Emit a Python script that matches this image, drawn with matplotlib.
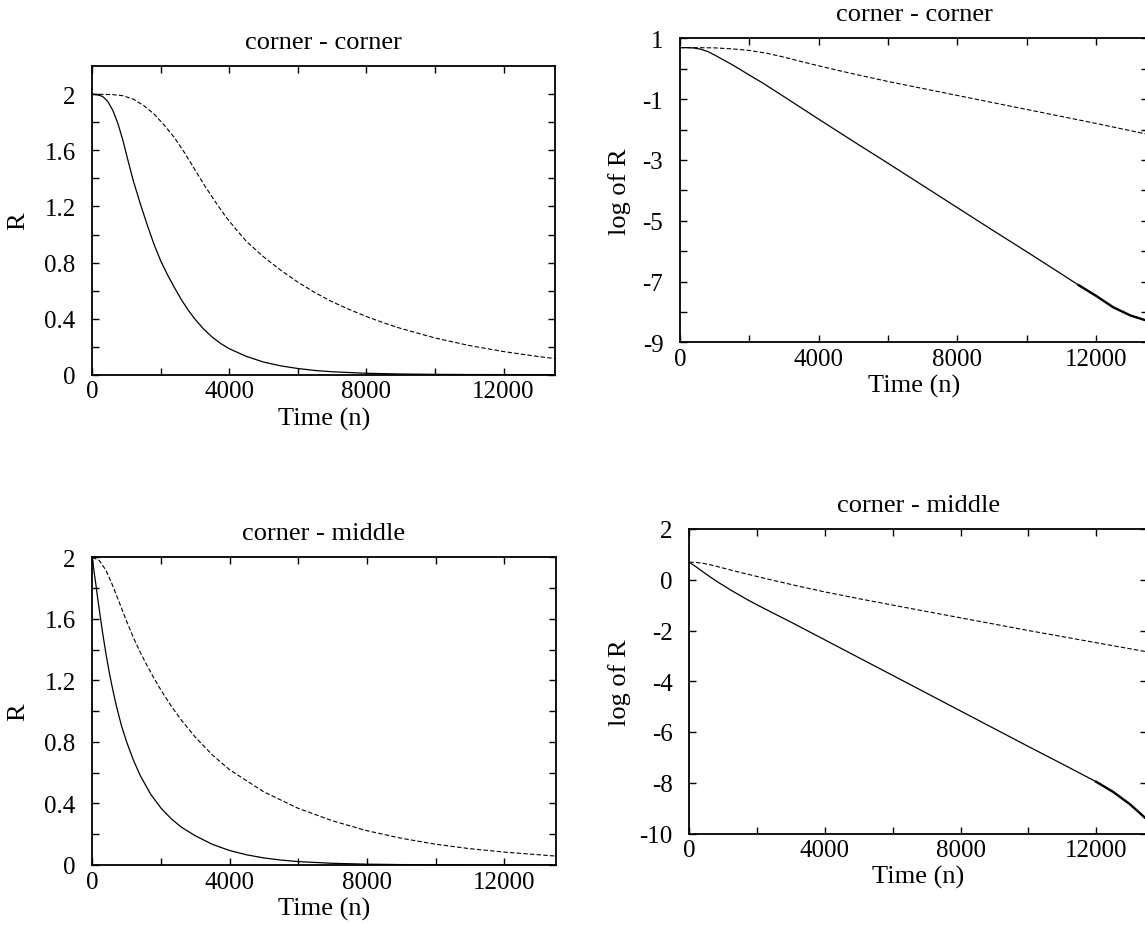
import matplotlib
matplotlib.use("Agg")
import matplotlib.pyplot as plt

plt.rcParams['font.family'] = ['Liberation Serif', 'DejaVu Serif']

# corner - corner, R against time
cc_t_solid = [0, 150, 300, 450, 600, 750, 900, 1050, 1200, 1400, 1600, 1800,
              2000, 2200, 2400, 2600, 2800, 3000, 3250, 3500, 3750, 4000, 4500,
              5000, 5500, 6000, 6500, 7000, 8000, 9000, 10000, 11000, 13500]
cc_r_solid = [2.0, 1.997, 1.985, 1.95, 1.885, 1.79, 1.665, 1.52, 1.38, 1.22,
              1.07, 0.93, 0.81, 0.71, 0.62, 0.535, 0.46, 0.395, 0.325, 0.268,
              0.222, 0.185, 0.13, 0.09, 0.063, 0.044, 0.030, 0.021, 0.01, 0.005,
              0.0024, 0.0012, 0.0002]
cc_t_dash = [0, 300, 600, 900, 1200, 1500, 1800, 2100, 2400, 2700, 3000, 3300,
             3600, 3900, 4200, 4500, 5000, 5500, 6000, 6500, 7000, 7500, 8000,
             8500, 9000, 9500, 10000, 11000, 12000, 13000, 13500]
cc_r_dash = [2.0, 2.0, 1.998, 1.99, 1.965, 1.92, 1.86, 1.78, 1.69, 1.58, 1.46,
             1.34, 1.23, 1.125, 1.035, 0.95, 0.84, 0.745, 0.66, 0.585, 0.52,
             0.465, 0.415, 0.37, 0.33, 0.296, 0.262, 0.208, 0.165, 0.13, 0.115]

# corner - corner, log of R
ccl_t_solid = [0, 200, 400, 600, 800, 1000, 1200, 1400, 1600, 1800, 2000, 2400,
               3000, 4000, 5000, 6000, 7000, 8000, 9000, 10000, 11000, 11500,
               12000, 12500, 13000, 13500]
ccl_v_solid = [0.693, 0.692, 0.682, 0.64, 0.565, 0.45, 0.322, 0.20, 0.068,
               -0.07, -0.21, -0.48, -0.92, -1.66, -2.39, -3.11, -3.84, -4.57,
               -5.30, -6.02, -6.75, -7.12, -7.47, -7.85, -8.12, -8.30]
ccl_t_dash = [0, 500, 1000, 1500, 2000, 2500, 3000, 3500, 4000, 4500, 5000, 6000,
              7000, 8000, 9000, 10000, 11000, 12000, 13500]
ccl_v_dash = [0.693, 0.692, 0.685, 0.652, 0.60, 0.51, 0.38, 0.235, 0.095,
              -0.04, -0.17, -0.42, -0.65, -0.88, -1.11, -1.34, -1.57, -1.80,
              -2.16]

# corner - middle, R against time
cm_t_solid = [0, 50, 100, 150, 200, 300, 400, 500, 600, 700, 850, 1000, 1200,
              1400, 1700, 2000, 2300, 2600, 3000, 3500, 4000, 4500, 5000, 5500,
              6000, 7000, 8000, 9000, 10000, 13500]
cm_r_solid = [2.0, 1.91, 1.83, 1.745, 1.665, 1.51, 1.37, 1.245, 1.135, 1.035,
              0.905, 0.80, 0.68, 0.58, 0.46, 0.37, 0.30, 0.245, 0.19, 0.134,
              0.094, 0.066, 0.046, 0.032, 0.022, 0.011, 0.0054, 0.0027, 0.0013,
              0.0001]
cm_t_dash = [0, 200, 400, 600, 800, 1000, 1200, 1400, 1600, 1800, 2000, 2300,
             2600, 3000, 3500, 4000, 5000, 6000, 7000, 8000, 9000, 10000, 11000,
             12000, 13500]
cm_r_dash = [2.0, 1.98, 1.915, 1.813, 1.699, 1.584, 1.477, 1.381, 1.294, 1.213,
             1.137, 1.033, 0.94, 0.831, 0.715, 0.619, 0.475, 0.368, 0.287,
             0.223, 0.174, 0.135, 0.106, 0.084, 0.058]

# corner - middle, log of R
cml_t_solid = [0, 100, 200, 300, 400, 500, 600, 700, 850, 1000, 1200, 1400,
               1700, 2000, 2300, 2600, 3000, 4000, 5000, 6000, 7000, 8000, 9000,
               10000, 11000, 12000, 12500, 13000, 13500]
cml_v_solid = [0.693, 0.60, 0.51, 0.41, 0.315, 0.22, 0.127, 0.035, -0.10, -0.22,
               -0.39, -0.545, -0.775, -0.99, -1.195, -1.40, -1.67, -2.37, -3.07,
               -3.77, -4.47, -5.17, -5.87, -6.57, -7.26, -7.96, -8.36, -8.85,
               -9.45]
cml_t_dash = [0, 200, 400, 600, 800, 1000, 1200, 1400, 1600, 1800, 2000, 2300,
              2600, 3000, 3500, 4000, 5000, 6000, 7000, 8000, 9000, 10000, 11000,
              12000, 13500]
cml_v_dash = [0.693, 0.683, 0.65, 0.595, 0.53, 0.46, 0.39, 0.323, 0.258, 0.193,
              0.128, 0.032, -0.062, -0.185, -0.335, -0.48, -0.745, -1.0, -1.25,
              -1.5, -1.75, -2.0, -2.24, -2.48, -2.84]

x_major = [0, 4000, 8000, 12000]
x_minor = [2000, 6000, 10000]

fig = plt.figure(figsize=(11.45, 9.28), dpi=100)

def px_axes(left, top, right, bottom):
    W, H = 1145.0, 928.0
    return fig.add_axes([left / W, 1 - bottom / H, (right - left) / W, (bottom - top) / H])

def style(ax, title, ylabel, ypad, ylabpad):
    ax.set_xlim(0, 13500)
    ax.set_xticks(x_major)
    ax.set_xticks(x_minor, minor=True)
    ax.set_xticklabels([str(v) for v in x_major])
    ax.tick_params(which='both', direction='in', top=True, right=True,
                   length=5, width=1, labelsize=18)
    ax.tick_params(axis='x', pad=4)
    ax.tick_params(axis='y', pad=ypad)
    for s in ax.spines.values():
        s.set_linewidth(1.3)
    ax.set_title(title, fontsize=19, pad=13)
    ax.set_xlabel('Time (n)', fontsize=19, labelpad=3)
    ax.set_ylabel(ylabel, fontsize=19, labelpad=ylabpad)

solid_kw = dict(color='black', lw=0.9)
dash_kw = dict(color='black', lw=0.8, linestyle=(0, (4, 2)))

# top left
ax1 = px_axes(92.3, 67.3, 555, 375.7)
ax1.plot(cc_t_solid, cc_r_solid, **solid_kw)
ax1.plot(cc_t_dash, cc_r_dash, **dash_kw)
ax1.set_ylim(0, 2.2)
ax1.set_yticks([0, 0.4, 0.8, 1.2, 1.6, 2])
ax1.set_yticklabels(['0', '0.4', '0.8', '1.2', '1.6', '2'])
ax1.set_yticks([0.2, 0.6, 1.0, 1.4, 1.8], minor=True)
style(ax1, 'corner - corner', 'R', 12, 11)

# top right
ax2 = px_axes(680, 39.3, 1148, 343.3)
ax2.plot(ccl_t_solid, ccl_v_solid, **solid_kw)
ax2.plot(ccl_t_solid[-5:], ccl_v_solid[-5:], color='black', lw=1.7)
ax2.plot(ccl_t_dash, ccl_v_dash, **dash_kw)
ax2.set_ylim(-9, 1)
ax2.set_yticks([1, -1, -3, -5, -7, -9])
ax2.set_yticklabels(['1', '-1', '-3', '-5', '-7', '-9'])
ax2.set_yticks([0, -2, -4, -6, -8], minor=True)
style(ax2, 'corner - corner', 'log of R', 12, 8)

# bottom left
ax3 = px_axes(92.3, 558.3, 555.7, 866)
ax3.plot(cm_t_solid, cm_r_solid, **solid_kw)
ax3.plot(cm_t_dash, cm_r_dash, **dash_kw)
ax3.set_ylim(0, 2)
ax3.set_yticks([0, 0.4, 0.8, 1.2, 1.6, 2])
ax3.set_yticklabels(['0', '0.4', '0.8', '1.2', '1.6', '2'])
ax3.set_yticks([0.2, 0.6, 1.0, 1.4, 1.8], minor=True)
style(ax3, 'corner - middle', 'R', 12, 11)

# bottom right
ax4 = px_axes(689.3, 530, 1147, 834.5)
ax4.plot(cml_t_solid, cml_v_solid, **solid_kw)
ax4.plot(cml_t_solid[-4:], cml_v_solid[-4:], color='black', lw=1.7)
ax4.plot(cml_t_dash, cml_v_dash, **dash_kw)
ax4.set_ylim(-10, 2)
ax4.set_yticks([2, 0, -2, -4, -6, -8, -10])
ax4.set_yticklabels(['2', '0', '-2', '-4', '-6', '-8', '-10'])
style(ax4, 'corner - middle', 'log of R', 12, 6)

fig.savefig('out.png', dpi=100)
